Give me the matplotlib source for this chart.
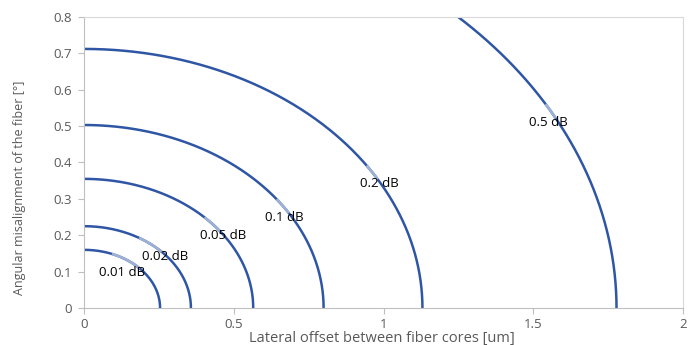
import numpy as np
import matplotlib
matplotlib.use('Agg')
import matplotlib.pyplot as plt

# loss contours: where each curve meets the axes
levels = [0.01, 0.02, 0.05, 0.1, 0.2, 0.5]
x_intercepts = [0.254, 0.357, 0.565, 0.800, 1.130, 1.778]   # um
y_intercepts = [0.160, 0.225, 0.355, 0.503, 0.712, 1.124]   # deg
label_x = [0.127, 0.270, 0.465, 0.668, 0.985, 1.550]
label_y = [0.099, 0.143, 0.200, 0.250, 0.343, 0.511]

xticks = [0, 0.5, 1, 1.5, 2]
xticklabels = ['0', '0.5', '1', '1.5', '2']
yticks = [0, 0.1, 0.2, 0.3, 0.4, 0.5, 0.6, 0.7, 0.8]
yticklabels = ['0', '0.1', '0.2', '0.3', '0.4', '0.5', '0.6', '0.7', '0.8']

line_col = '#2f56a5'
light_col = '#9db1d6'
grey = '#595959'

plt.rcParams['font.family'] = ['Open Sans', 'DejaVu Sans']

fig = plt.figure(figsize=(6.92, 3.45), dpi=100)
ax = fig.add_axes([0.1214, 0.107, 0.8656, 0.844])

t = np.linspace(0, np.pi / 2, 600)
for lev, a, b, lx, ly in zip(levels, x_intercepts, y_intercepts, label_x, label_y):
    x = a * np.cos(t)
    y = b * np.sin(t)
    ax.plot(x, y, color=line_col, lw=1.8, solid_capstyle='butt', zorder=2)
    # lighter piece of the curve just above the label
    m = (y > ly + 0.01) & (y < ly + 0.05)
    ax.plot(x[m], y[m], color=light_col, lw=1.9, solid_capstyle='butt', zorder=3)
    ax.text(lx, ly, '{} dB'.format(lev), ha='center', va='center',
            fontsize=9.5, color='black', zorder=4)

ax.set_xlim(0, 2)
ax.set_ylim(0, 0.8)
ax.set_xticks(xticks)
ax.set_xticklabels(xticklabels)
ax.set_yticks(yticks)
ax.set_yticklabels(yticklabels)
ax.tick_params(colors='#bfbfbf', labelcolor=grey, labelsize=9.5, length=4, width=0.8)
ax.tick_params(axis='x', pad=3)
ax.tick_params(axis='y', pad=5)

for s in ['left', 'bottom']:
    ax.spines[s].set_color('#bfbfbf')
for s in ['top', 'right']:
    ax.spines[s].set_color('#d9d9d9')

ax.set_xlabel('Lateral offset between fiber cores [um]', color=grey, fontsize=10.5, va='center')
ax.xaxis.set_label_coords(0.4975, -0.104)
ax.set_ylabel('Angular misalignment of the fiber [°]', color=grey, fontsize=9, va='center')
ax.yaxis.set_label_coords(-0.107, 0.412)

fig.savefig('out.png', dpi=100)
